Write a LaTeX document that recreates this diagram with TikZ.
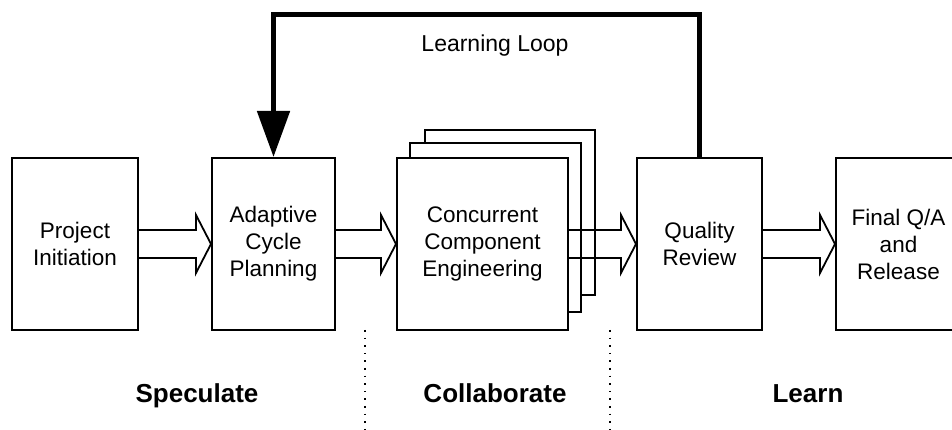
\documentclass[tikz,border=0pt]{standalone}
\usepackage{fontspec}
\setmainfont{Liberation Sans}
\usetikzlibrary{arrows.meta,calc}
\newcommand\myblockarrow[2]{%
  \draw[blockarrow] ($(#1.east)+(0,14)$) -- ($(#2.west)+(-15,14)$) -- ($(#2.west)+(-15,29)$)
    -- (#2.west) -- ($(#2.west)+(-15,-29)$) -- ($(#2.west)+(-15,-14)$) -- ($(#1.east)+(0,-14)$);}
\begin{document}
\begin{tikzpicture}[x=1pt,y=1pt,
  box/.style={draw=black,line width=2pt,fill=white,minimum height=172pt,inner sep=0pt,
    align=center,font=\fontsize{22.5}{27}\selectfont},
  backbox/.style={draw=black,line width=2pt,fill=white,inner sep=0pt},
  blockarrow/.style={draw=black,line width=1.8pt,line join=miter},
  phase/.style={font=\fontsize{26}{30}\selectfont\bfseries,anchor=base},
  divider/.style={line width=1.6pt,dash pattern=on 1.6pt off 6pt},
  looparrow/.style={line width=5pt,-{Triangle[length=46pt,width=32pt]}}]
\useasboundingbox (0,0) rectangle (952,430);
\begin{scope}
\clip (0,0) rectangle (952,430);
\fill[white] (0,0) rectangle (952,430);
\node[box,minimum width=126pt] (init) at (75,186) {Project\\Initiation};
\node[box,minimum width=123pt] (plan) at (273.5,186) {Adaptive\\Cycle\\Planning};
\node[backbox,minimum width=170pt,minimum height=165pt] (back3) at (510,217.5) {};
\node[backbox,minimum width=171pt,minimum height=169pt] (back2) at (495.5,202.5) {};
\node[box,minimum width=171pt] (eng) at (482.5,186) {Concurrent\\Component\\Engineering};
\node[box,minimum width=125pt] (review) at (699.5,186) {Quality\\Review};
\node[box,minimum width=125pt] (final) at (898.5,186) {Final Q/A\\and\\Release};
\myblockarrow{init}{plan}
\myblockarrow{plan}{eng}
\myblockarrow{eng}{review}
\myblockarrow{review}{final}
\draw[looparrow] (review.north) -- ++(0,142) -| (plan.north);
\node[font=\fontsize{23}{28}\selectfont,anchor=base] (looplabel) at (495,378) {Learning Loop};
\coordinate (d1top) at (365,100);
\coordinate (d1bot) at (365,0);
\coordinate (d2top) at (610,100);
\coordinate (d2bot) at (610,0);
\draw[divider] (d1top) -- (d1bot);
\draw[divider] (d2top) -- (d2bot);
\node[phase] (spec) at (197,27) {Speculate};
\node[phase] (collab) at (495,27) {Collaborate};
\node[phase] (learn) at (808,27) {Learn};
\end{scope}
\end{tikzpicture}
\end{document}
